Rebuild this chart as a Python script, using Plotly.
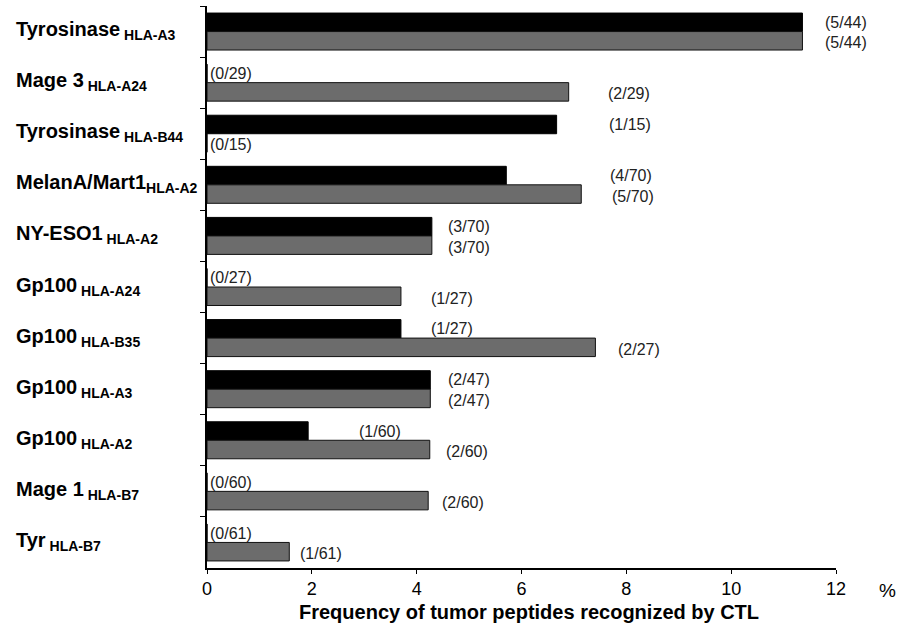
import plotly.graph_objects as go

# Antigen / HLA restriction (top to bottom)
antigens = ["Tyrosinase", "Mage 3", "Tyrosinase", "MelanA/Mart1", "NY-ESO1",
            "Gp100", "Gp100", "Gp100", "Gp100", "Mage 1", "Tyr"]
restrictions = [" HLA-A3", " HLA-A24", " HLA-B44", "HLA-A2", " HLA-A2",
                " HLA-A24", " HLA-B35", " HLA-A3", " HLA-A2", " HLA-B7", " HLA-B7"]

# Frequency (%) of recognized peptides, two patient groups
freq_black = [11.36, 0, 6.67, 5.71, 4.29, 0, 3.70, 4.26, 1.93, 0, 0]
freq_gray = [11.36, 6.90, 0, 7.14, 4.29, 3.70, 7.41, 4.26, 4.25, 4.22, 1.57]

# Responders / tested
counts_black = ["(5/44)", "(0/29)", "(1/15)", "(4/70)", "(3/70)", "(0/27)",
                "(1/27)", "(2/47)", "(1/60)", "(0/60)", "(0/61)"]
counts_gray = ["(5/44)", "(2/29)", "(0/15)", "(5/70)", "(3/70)", "(1/27)",
               "(2/27)", "(2/47)", "(2/60)", "(2/60)", "(1/61)"]

x_ticks = [0, 2, 4, 6, 8, 10, 12]

# Horizontal gap (px) between bar end and its count label
pad_black = [21, 1, 50, 102, 14, 1, 28, 16, 49, 1, 1]
pad_gray = [21, 37, 1, 29, 14, 28, 21, 16, 14, 12, 9]

categories = [a + r for a, r in zip(antigens, restrictions)]

FONT = "Liberation Sans, Arial, sans-serif"
GRAY = "#6c6c6c"

fig = go.Figure()
fig.add_trace(go.Bar(y=categories, x=freq_black, orientation="h",
                     marker=dict(color="#000000", line=dict(color="#000000", width=1)),
                     showlegend=False))
fig.add_trace(go.Bar(y=categories, x=freq_gray, orientation="h",
                     marker=dict(color=GRAY, line=dict(color="#111111", width=1)),
                     showlegend=False))

annotations = []
slot = 9.25  # half of the bar thickness in px
for cat, a, r in zip(categories, antigens, restrictions):
    annotations.append(dict(
        x=-0.3065, xref="paper", y=cat, yref="y", xanchor="left", yanchor="middle",
        text=f"<b>{a}<sub>{r}</sub></b>", showarrow=False, yshift=1,
        font=dict(family=FONT, size=20, color="#000000")))

for cat, v, t, p in zip(categories, freq_black, counts_black, pad_black):
    annotations.append(dict(
        x=v, xref="x", y=cat, yref="y", xanchor="left", yanchor="middle",
        text=t, showarrow=False, xshift=p, yshift=slot,
        font=dict(family=FONT, size=16, color="#222222")))
for cat, v, t, p in zip(categories, freq_gray, counts_gray, pad_gray):
    annotations.append(dict(
        x=v, xref="x", y=cat, yref="y", xanchor="left", yanchor="middle",
        text=t, showarrow=False, xshift=p, yshift=-slot - 2,
        font=dict(family=FONT, size=16, color="#222222")))

annotations.append(dict(x=1.082, xref="paper", y=-0.04, yref="paper",
                        xanchor="center", yanchor="middle", text="%", showarrow=False,
                        font=dict(family=FONT, size=19, color="#000000")))
annotations.append(dict(x=0.5126, xref="paper", y=-0.078, yref="paper",
                        xanchor="center", yanchor="middle",
                        text="<b>Frequency of tumor peptides recognized by CTL</b>",
                        showarrow=False,
                        font=dict(family=FONT, size=20, color="#000000")))

fig.update_layout(
    width=901, height=632,
    margin=dict(l=207, r=65, t=6, b=64),
    paper_bgcolor="white", plot_bgcolor="white",
    barmode="group", bargap=0.276, bargroupgap=0,
    annotations=annotations,
    xaxis=dict(range=[0, 12], tickvals=x_ticks, ticktext=[str(v) for v in x_ticks],
               showgrid=False, zeroline=False, showline=True, linecolor="#000000",
               linewidth=1.5, ticks="outside", ticklen=4, tickcolor="#000000",
               tickfont=dict(family=FONT, size=18, color="#000000")),
    yaxis=dict(categoryorder="array", categoryarray=categories, autorange="reversed",
               showticklabels=False, showgrid=False, zeroline=False, showline=True,
               linecolor="#000000", linewidth=1.5, ticks="outside", ticklen=5,
               tickcolor="#000000", tickson="boundaries"),
)

fig.write_html("out.html")
